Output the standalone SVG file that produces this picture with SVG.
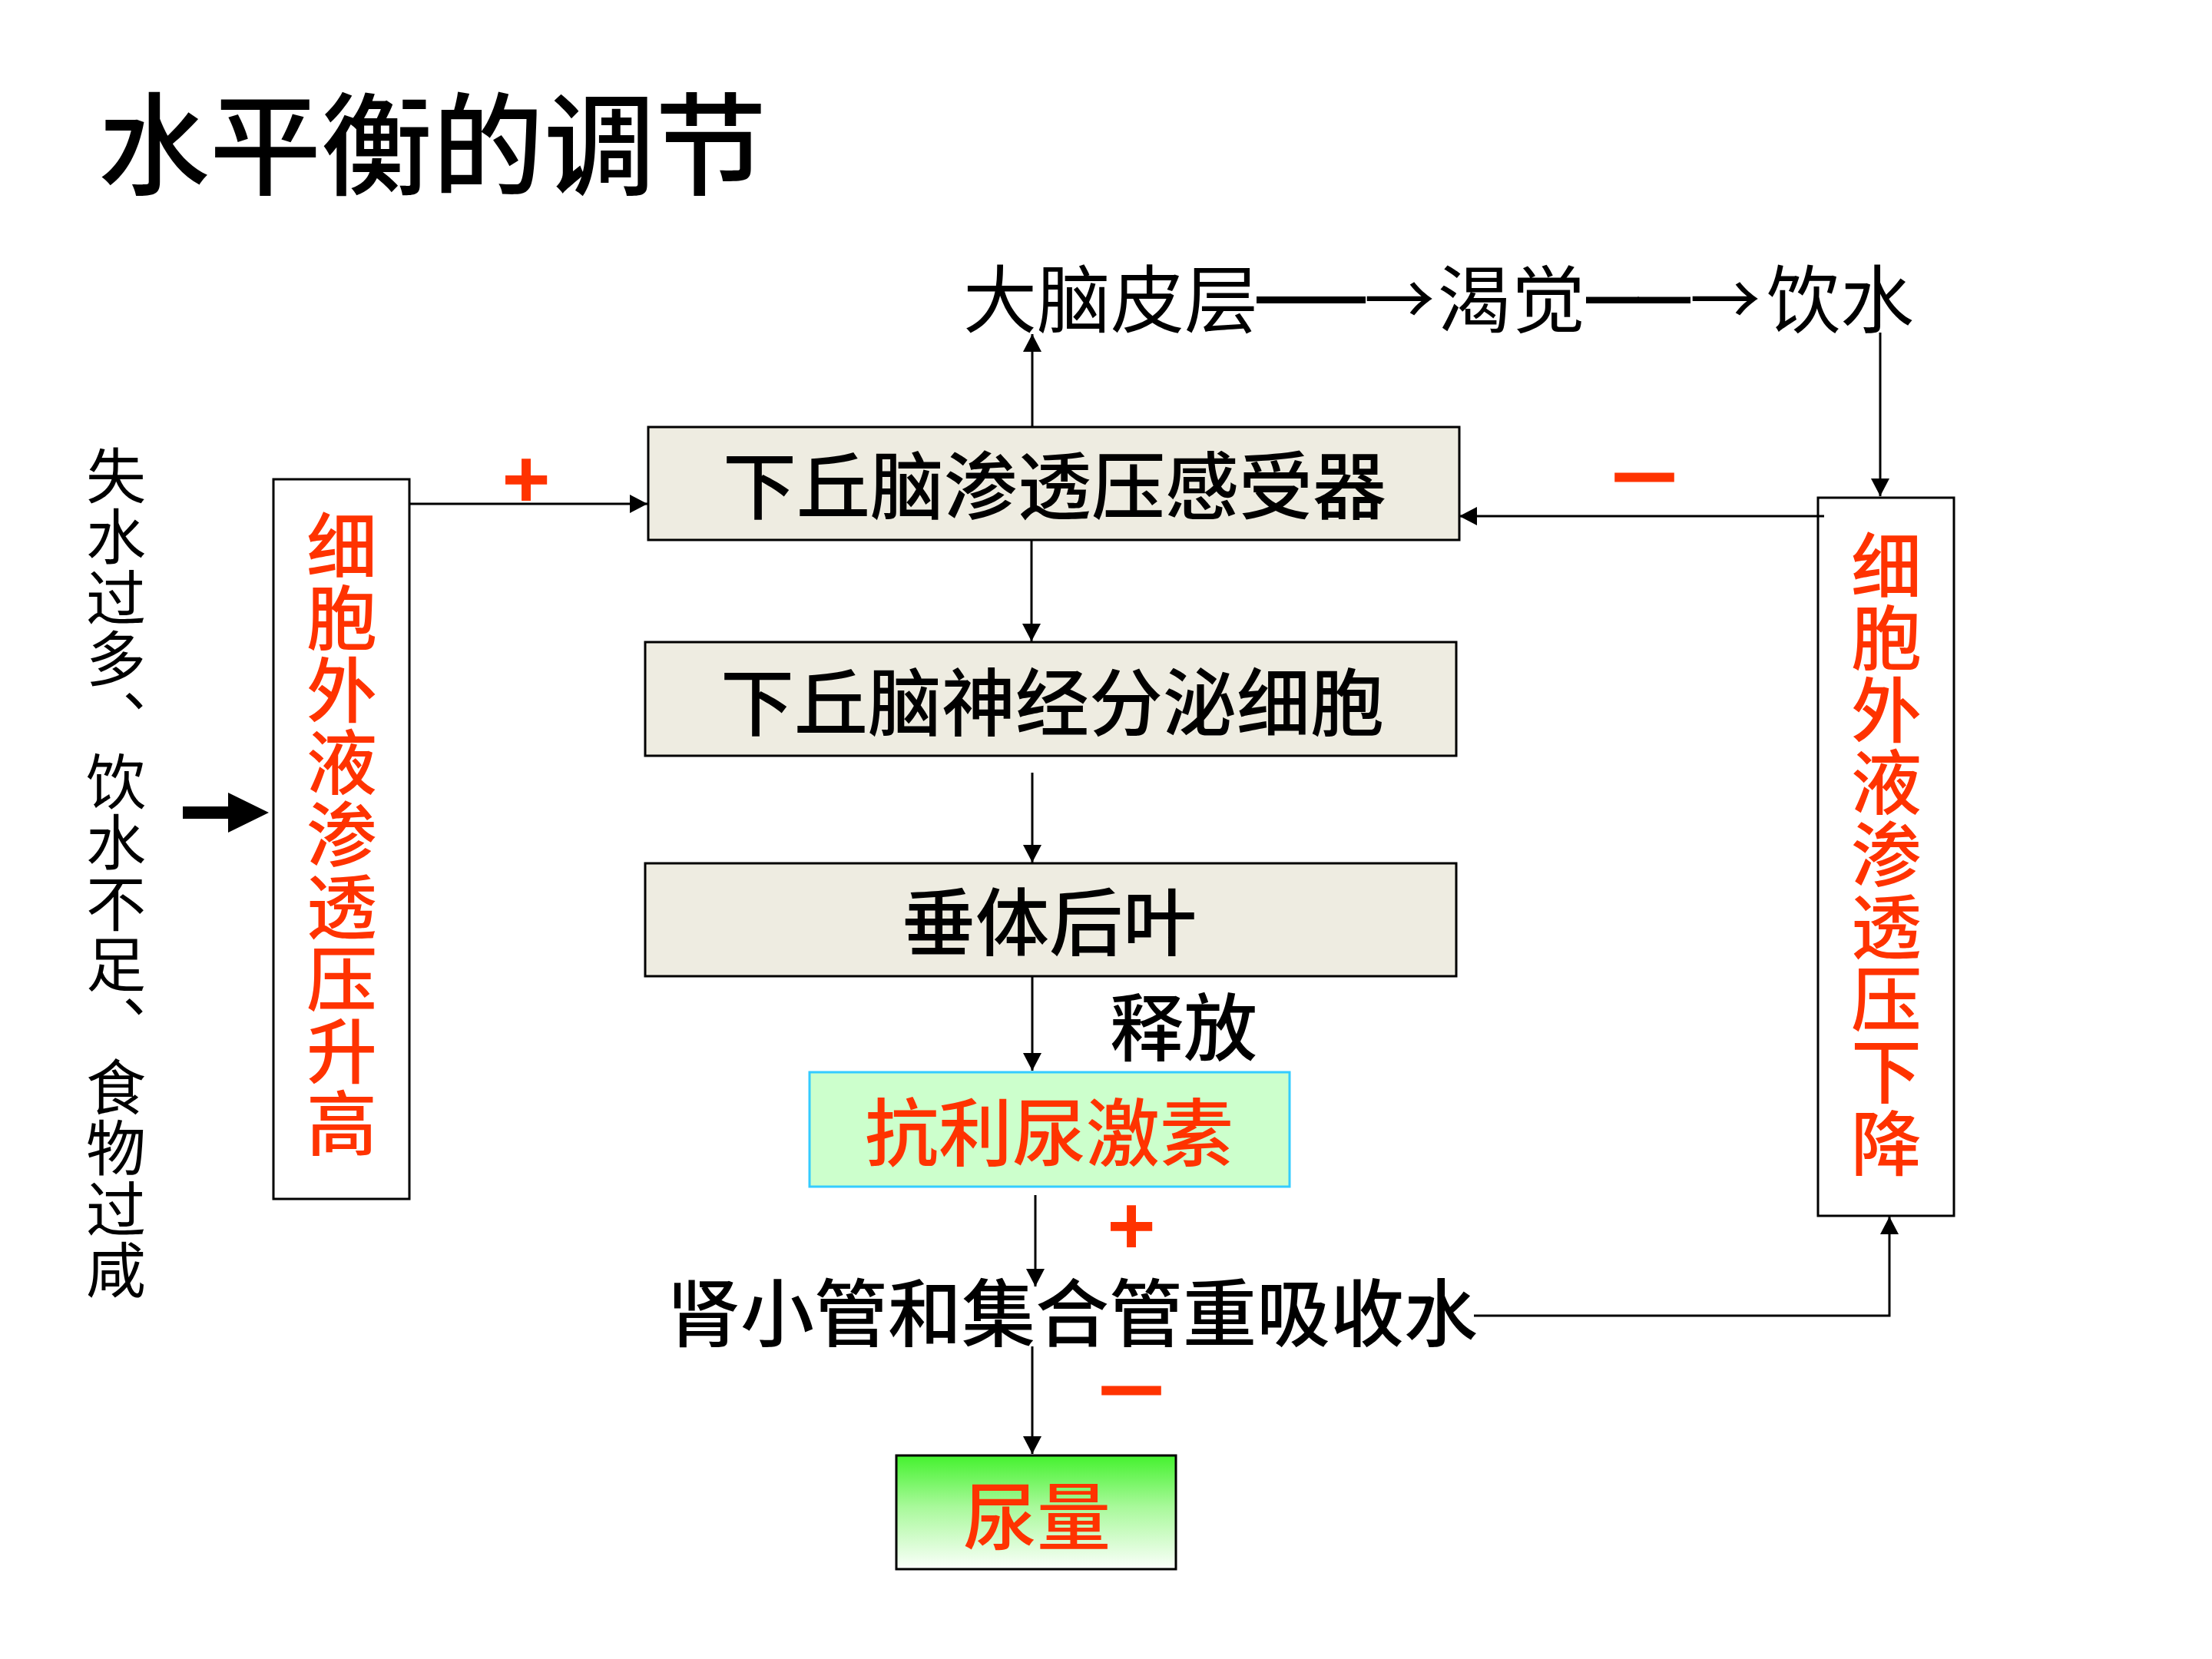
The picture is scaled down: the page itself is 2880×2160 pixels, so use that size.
<svg xmlns="http://www.w3.org/2000/svg" width="2880" height="2160" viewBox="0 0 2880 2160">
  <defs>
    <marker id="arrow" markerUnits="userSpaceOnUse" markerWidth="24" markerHeight="24" refX="23" refY="12" orient="auto">
      <path d="M0,0 L23,12 L0,24 Z" fill="#000"/>
    </marker>
    <linearGradient id="urineFill" x1="0" y1="0" x2="0" y2="1">
      <stop offset="0" stop-color="#44F22E"/>
      <stop offset="0.45" stop-color="#A8F99A"/>
      <stop offset="1" stop-color="#FBFFFB"/>
    </linearGradient>
    <style>
      .cjk { font-family: "Noto Sans CJK SC", "Noto Sans", sans-serif; }
      .black { fill: #000; }
      .red { fill: #FF3300; }
      .box { fill: #EEECE1; stroke: #000; stroke-width: 3; }
      .plain { fill: #FFFFFF; stroke: #000; stroke-width: 3; }
      .link { fill: none; stroke: #000; stroke-width: 3; marker-end: url(#arrow); }
      .sign { font-family: "Liberation Sans", Arial, sans-serif; font-weight: bold; fill: #FF3300; }
      .minus { font-family: "Liberation Sans", Arial, sans-serif; font-weight: bold; fill: #FF3300; stroke: #FF3300; stroke-width: 7; font-size: 50px; }
      .dash { font-family: "Liberation Sans", Arial, sans-serif; font-weight: bold; fill: #000; stroke: #000; stroke-width: 2; }
      .lbl { font-size: 96px; }
      .heavy { font-weight: 500; }
    </style>
  </defs>

  <rect width="2880" height="2160" fill="#FFFFFF"/>

  <!-- heading -->
  <text class="cjk black" x="128" y="243" font-size="145" font-weight="500">水平衡的调节</text>

  <!-- cortex / thirst / drinking chain -->
  <g id="cortex-chain" class="cjk black">
    <text class="lbl" x="1254" y="425">大脑皮层</text>
    <text class="dash" x="1637" y="409" font-size="70">——</text>
    <text x="1776" y="424" font-size="92">→</text>
    <text class="lbl" x="1872" y="425">渴觉</text>
    <text class="dash" x="2066" y="409" font-size="67">——</text>
    <text x="2200" y="424" font-size="92">→</text>
    <text class="lbl" x="2300" y="425">饮水</text>
  </g>

  <!-- causes, written top to bottom -->
  <g id="causes">
    <text class="cjk black" x="151" y="580" font-size="78" writing-mode="vertical-rl" letter-spacing="1.6">失水过多、饮水不足、食物过咸</text>
    <polygon points="238,1050 297,1050 297,1032 350,1058 297,1084 297,1066 238,1066" fill="#000"/>
  </g>

  <!-- osmotic pressure rises -->
  <g id="osm-up">
    <rect class="plain" x="356" y="624" width="177" height="937"/>
    <text class="cjk red heavy" x="445" y="664" font-size="92" letter-spacing="2" writing-mode="vertical-rl">细胞外液渗透压升高</text>
  </g>

  <!-- hypothalamic osmoreceptors -->
  <g id="osmoreceptor">
    <rect class="box" x="844" y="556" width="1056" height="147"/>
    <text class="cjk black lbl heavy" x="1373" y="668" text-anchor="middle">下丘脑渗透压感受器</text>
  </g>

  <!-- neurosecretory cells -->
  <g id="neurosecretory">
    <rect class="box" x="840" y="836" width="1056" height="148"/>
    <text class="cjk black lbl heavy" x="1370" y="950" text-anchor="middle">下丘脑神经分泌细胞</text>
  </g>

  <!-- posterior pituitary -->
  <g id="pituitary">
    <rect class="box" x="840" y="1124" width="1056" height="147"/>
    <text class="cjk black lbl heavy" x="1366" y="1236" text-anchor="middle">垂体后叶</text>
  </g>

  <!-- antidiuretic hormone -->
  <g id="adh">
    <rect x="1054" y="1396" width="625" height="149" fill="#CCFFCC" stroke="#33CCFF" stroke-width="3"/>
    <text class="cjk red lbl heavy" x="1366" y="1510" text-anchor="middle">抗利尿激素</text>
  </g>

  <!-- tubule reabsorption -->
  <g id="reabsorption">
    <text class="cjk black lbl heavy" x="1396" y="1745" text-anchor="middle">肾小管和集合管重吸收水</text>
  </g>

  <!-- urine volume -->
  <g id="urine">
    <rect x="1167" y="1895" width="364" height="148" fill="url(#urineFill)" stroke="#000" stroke-width="3"/>
    <text class="cjk red lbl heavy" x="1350" y="2010" text-anchor="middle">尿量</text>
  </g>

  <!-- osmotic pressure falls -->
  <g id="osm-down">
    <rect class="plain" x="2367" y="648" width="177" height="935"/>
    <text class="cjk red heavy" x="2456" y="690" font-size="92" letter-spacing="2" writing-mode="vertical-rl">细胞外液渗透压下降</text>
  </g>

  <!-- connectors -->
  <g id="connectors">
    <line class="link" x1="533" y1="656" x2="843" y2="656"/>
    <line class="link" x1="1344" y1="556" x2="1344" y2="435"/>
    <line class="link" x1="2448" y1="433" x2="2448" y2="646"/>
    <line class="link" x1="2375" y1="672" x2="1900" y2="672"/>
    <line class="link" x1="1343" y1="703" x2="1343" y2="835"/>
    <line class="link" x1="1344" y1="1006" x2="1344" y2="1123"/>
    <text class="cjk black lbl heavy" x="1445" y="1373">释放</text>
    <line class="link" x1="1344" y1="1272" x2="1344" y2="1394"/>
    <line class="link" x1="1348" y1="1556" x2="1348" y2="1675"/>
    <line class="link" x1="1344" y1="1753" x2="1344" y2="1893"/>
    <polyline class="link" points="1919,1713 2460,1713 2460,1584"/>
  </g>

  <!-- effect signs -->
  <g id="signs">
    <text class="sign" x="685" y="660" font-size="108" text-anchor="middle">+</text>
    <text class="sign" x="1473" y="1632" font-size="108" text-anchor="middle">+</text>
    <text class="minus" x="2107" y="635" textLength="68" lengthAdjust="spacingAndGlyphs">—</text>
    <text class="minus" x="1439" y="1824" textLength="68" lengthAdjust="spacingAndGlyphs">—</text>
  </g>
</svg>
